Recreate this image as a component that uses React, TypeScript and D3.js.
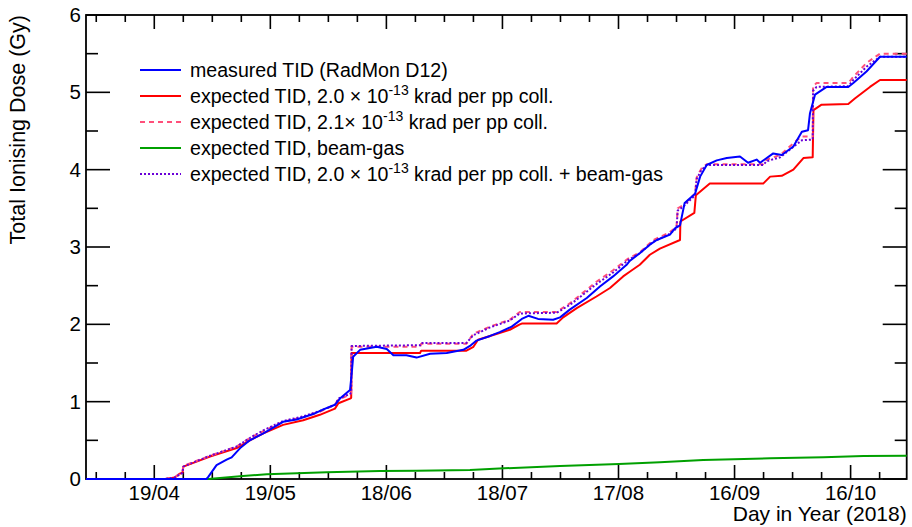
import React from "react";
import * as d3 from "d3";

// x values: days since 1 Jan 2018 (0 = 1 Jan); y values: Gy
const xTickDays = [108, 138, 168, 198, 228, 258, 288];
const xTickLabels = ["19/04", "19/05", "18/06", "18/07", "17/08", "16/09", "16/10"];
const yTickValues = [0, 1, 2, 3, 4, 5, 6];

const measuredTID: [number, number][] = [
  [90.35, 0], [121.5, 0], [122.0, 0.03], [124.1, 0.18], [126.7, 0.25], [128.0, 0.28], [130.2, 0.40],
  [132.7, 0.50], [136.2, 0.59], [141.3, 0.74], [144.8, 0.77], [149.1, 0.84], [151.7, 0.90], [154.7, 0.96],
  [156.0, 1.04], [158.6, 1.15], [159.1, 1.40], [159.4, 1.58], [161.2, 1.67], [165.5, 1.71], [168.1, 1.68],
  [169.8, 1.60], [173.2, 1.60], [175.8, 1.57], [179.3, 1.62], [183.6, 1.63], [187.9, 1.67], [189.6, 1.72],
  [191.3, 1.79], [194.8, 1.85], [197.3, 1.90], [200.4, 1.97], [203.0, 2.07], [204.7, 2.11], [207.2, 2.07],
  [211.1, 2.06], [212.9, 2.09], [215.4, 2.19], [219.8, 2.34], [223.2, 2.49], [226.6, 2.62], [230.1, 2.77],
  [230.9, 2.82], [233.5, 2.92], [236.1, 3.03], [237.9, 3.09], [241.3, 3.16], [242.6, 3.24], [243.9, 3.28],
  [245.1, 3.57], [247.8, 3.69], [249.1, 3.91], [250.8, 4.06], [253.4, 4.12], [256.0, 4.15], [259.4, 4.17],
  [261.5, 4.09], [263.7, 4.13], [264.6, 4.09], [268.0, 4.21], [270.2, 4.19], [273.2, 4.30], [275.4, 4.49],
  [277.0, 4.51], [277.5, 4.73], [278.8, 4.97], [281.8, 5.07], [287.4, 5.07], [288.7, 5.12], [292.1, 5.27],
  [295.6, 5.46], [302.5, 5.46],
];

const expected20: [number, number][] = [
  [90.35, 0], [110.8, 0], [113.3, 0.02], [114.6, 0.07], [115.3, 0.08], [115.5, 0.16], [122.4, 0.29],
  [129.3, 0.40], [132.7, 0.50], [136.2, 0.59], [141.3, 0.70], [146.5, 0.76], [150.8, 0.83], [154.7, 0.91],
  [155.6, 0.98], [158.6, 1.04], [158.9, 1.05], [159.0, 1.63], [176.7, 1.63], [177.0, 1.66], [188.7, 1.66],
  [190.5, 1.71], [191.7, 1.80], [194.8, 1.85], [199.9, 1.93], [202.5, 2.00], [203.0, 2.01], [212.0, 2.01],
  [213.7, 2.09], [217.2, 2.21], [222.3, 2.36], [225.8, 2.47], [229.2, 2.62], [230.9, 2.68], [233.5, 2.77],
  [236.1, 2.90], [238.7, 2.98], [243.9, 3.09], [244.0, 3.33], [247.6, 3.44], [248.0, 3.67], [251.6, 3.82],
  [265.4, 3.82], [267.2, 3.91], [270.2, 3.92], [273.2, 4.00], [275.8, 4.15], [278.2, 4.16], [278.4, 4.77],
  [280.5, 4.84], [287.4, 4.85], [289.1, 4.92], [293.0, 5.07], [295.6, 5.16], [302.5, 5.16],
];

const expected21: [number, number][] = [
  [90.35, 0], [110.8, 0], [113.3, 0.02], [114.6, 0.07], [115.3, 0.09], [115.5, 0.17], [122.4, 0.30],
  [129.3, 0.42], [132.7, 0.53], [136.2, 0.62], [141.3, 0.74], [146.5, 0.80], [150.8, 0.87], [154.7, 0.96],
  [155.6, 1.03], [158.6, 1.09], [158.9, 1.11], [159.0, 1.71], [176.7, 1.71], [177.0, 1.75], [188.7, 1.75],
  [190.5, 1.88], [194.8, 1.97], [199.9, 2.06], [202.5, 2.16], [212.0, 2.16], [215.4, 2.27], [222.3, 2.55],
  [226.6, 2.70], [230.5, 2.85], [233.5, 2.93], [237.0, 3.09], [240.9, 3.18], [243.0, 3.26], [243.3, 3.50],
  [244.7, 3.54], [247.8, 3.69], [248.2, 3.90], [249.5, 4.02], [250.8, 4.07], [265.4, 4.07], [266.3, 4.13],
  [269.8, 4.19], [274.1, 4.38], [275.4, 4.43], [278.2, 4.43], [278.3, 5.08], [279.2, 5.12], [287.4, 5.12],
  [288.7, 5.20], [292.1, 5.38], [295.6, 5.50], [302.5, 5.50],
];

const beamGas: [number, number][] = [
  [90.35, 0], [122.0, 0], [130.9, 0.04], [137.1, 0.06], [152.6, 0.087], [166.3, 0.105], [175.8, 0.107],
  [189.6, 0.116], [198.4, 0.138], [212.9, 0.168], [228.1, 0.194], [238.7, 0.215], [249.9, 0.245],
  [267.2, 0.267], [281.0, 0.28], [291.3, 0.297], [302.5, 0.30],
];

const expected20PlusBeamGas: [number, number][] = [
  [90.35, 0], [110.8, 0], [113.3, 0.02], [114.6, 0.06], [115.3, 0.08], [115.5, 0.16], [122.4, 0.30],
  [129.3, 0.42], [132.7, 0.53], [136.2, 0.63], [141.3, 0.75], [146.5, 0.81], [150.8, 0.88], [154.7, 0.96],
  [155.6, 1.04], [158.6, 1.10], [158.9, 1.12], [159.0, 1.72], [176.7, 1.73], [177.0, 1.76], [188.7, 1.76],
  [190.5, 1.86], [194.8, 1.96], [199.9, 2.05], [202.5, 2.14], [212.0, 2.15], [215.4, 2.25], [222.3, 2.52],
  [226.6, 2.67], [230.5, 2.83], [233.5, 2.92], [237.0, 3.07], [240.9, 3.16], [243.0, 3.24], [243.3, 3.47],
  [244.7, 3.52], [247.8, 3.67], [248.2, 3.88], [249.5, 4.00], [250.8, 4.06], [265.4, 4.06], [266.3, 4.11],
  [269.8, 4.16], [274.1, 4.33], [275.4, 4.38], [278.2, 4.39], [278.3, 5.02], [279.2, 5.07], [287.4, 5.08],
  [288.7, 5.16], [292.1, 5.33], [295.6, 5.46], [302.5, 5.46],
];

const FONT = "'Liberation Sans', Arial, Helvetica, sans-serif";

export default function App() {
  const W = 912, H = 527;
  const left = 86, right = 906.7, top = 15, bottom = 479;
  const x = d3.scaleLinear().domain([90.35, 302.5]).range([left, right]);
  const y = d3.scaleLinear().domain([0, 6]).range([bottom, top]);
  const line = d3.line<[number, number]>().x((d) => x(d[0])).y((d) => y(d[1]));

  const minorX: number[] = [];
  for (let d = 108 - 7.5 * 3; d <= 302.5; d += 7.5) {
    if (d >= 90.35 && !xTickDays.includes(d)) minorX.push(d);
  }
  const minorY = d3.range(0.5, 6, 1);

  const majXLen = 14, minXLen = 7, majYLen = 24, minYLen = 12;
  const lw = 2;

  const series = [
    { data: beamGas, color: "#00a000", dash: undefined },
    { data: expected20, color: "#ff0000", dash: undefined },
    { data: expected21, color: "#ff4f7a", dash: "5 4" },
    { data: expected20PlusBeamGas, color: "#6a00d8", dash: "2 2" },
    { data: measuredTID, color: "#0000ff", dash: undefined },
  ];

  const legend = [
    { color: "#0000ff", dash: undefined, parts: ["measured TID (RadMon D12)"] },
    { color: "#ff0000", dash: undefined, parts: ["expected TID, 2.0 \u00d7 10", "-13", " krad per pp coll."] },
    { color: "#ff4f7a", dash: "5 4", parts: ["expected TID, 2.1\u00d7 10", "-13", " krad per pp coll."] },
    { color: "#00a000", dash: undefined, parts: ["expected TID, beam-gas"] },
    { color: "#6a00d8", dash: "2 2", parts: ["expected TID, 2.0 \u00d7 10", "-13", " krad per pp coll. + beam-gas"] },
  ];

  return (
    <svg width={W} height={H} style={{ position: "absolute", left: 0, top: 0, background: "#fff" }} fontFamily={FONT}>
      <rect x={0} y={0} width={W} height={H} fill="#fff" />
      {/* frame */}
      <rect x={left} y={top} width={right - left} height={bottom - top} fill="none" stroke="#000" strokeWidth={1.8} />
      {/* x ticks bottom & top */}
      {xTickDays.map((d) => (
        <g key={"xt" + d}>
          <line x1={x(d)} x2={x(d)} y1={bottom} y2={bottom - majXLen} stroke="#000" strokeWidth={1.6} />
          <line x1={x(d)} x2={x(d)} y1={top} y2={top + majXLen} stroke="#000" strokeWidth={1.6} />
        </g>
      ))}
      {minorX.map((d) => (
        <g key={"xm" + d}>
          <line x1={x(d)} x2={x(d)} y1={bottom} y2={bottom - minXLen} stroke="#000" strokeWidth={1.6} />
          <line x1={x(d)} x2={x(d)} y1={top} y2={top + minXLen} stroke="#000" strokeWidth={1.6} />
        </g>
      ))}
      {/* y ticks left & right */}
      {yTickValues.map((v) => (
        <g key={"yt" + v}>
          <line x1={left} x2={left + majYLen} y1={y(v)} y2={y(v)} stroke="#000" strokeWidth={1.6} />
          <line x1={right} x2={right - majYLen} y1={y(v)} y2={y(v)} stroke="#000" strokeWidth={1.6} />
        </g>
      ))}
      {minorY.map((v) => (
        <g key={"ym" + v}>
          <line x1={left} x2={left + minYLen} y1={y(v)} y2={y(v)} stroke="#000" strokeWidth={1.6} />
          <line x1={right} x2={right - minYLen} y1={y(v)} y2={y(v)} stroke="#000" strokeWidth={1.6} />
        </g>
      ))}
      {/* tick labels */}
      {xTickDays.map((d, i) => (
        <text key={"xl" + d} x={x(d)} y={500} textAnchor="middle" fontSize={20.5} fill="#000">
          {xTickLabels[i]}
        </text>
      ))}
      {yTickValues.map((v) => (
        <text key={"yl" + v} x={81} y={y(v) + 7} textAnchor="end" fontSize={20.5} fill="#000">
          {v}
        </text>
      ))}
      {/* axis titles */}
      <text x={right} y={521} textAnchor="end" fontSize={21} fill="#000">
        Day in Year (2018)
      </text>
      <text transform={`translate(25,${top}) rotate(-90)`} textAnchor="end" fontSize={21.5} fill="#000">
        Total Ionising Dose (Gy)
      </text>
      {/* series */}
      {series.map((s, i) => (
        <path key={"s" + i} d={line(s.data) || ""} fill="none" stroke={s.color} strokeWidth={lw}
          strokeDasharray={s.dash} strokeLinejoin="round" />
      ))}
      {/* legend */}
      {legend.map((l, i) => {
        const ly = 70 + i * 26;
        return (
          <g key={"lg" + i}>
            <line x1={140} x2={181} y1={ly} y2={ly} stroke={l.color} strokeWidth={lw} strokeDasharray={l.dash} />
            <text x={190} y={ly + 7} fontSize={19.6} fill="#000">
              <tspan>{l.parts[0]}</tspan>
              {l.parts.length > 1 && (
                <>
                  <tspan dy={-8} fontSize={14}>{l.parts[1]}</tspan>
                  <tspan dy={8}>{l.parts[2]}</tspan>
                </>
              )}
            </text>
          </g>
        );
      })}
    </svg>
  );
}
